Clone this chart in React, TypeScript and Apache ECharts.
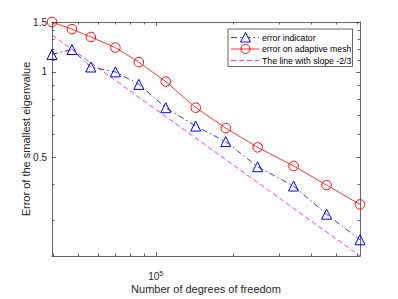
import React, { useEffect, useRef } from 'react';
import * as echarts from 'echarts';

const dofs = [39700, 47400, 56100, 69800, 86000, 109300, 142700, 186400, 247600, 341000, 457300, 616000];
const errorIndicator = [1.152, 1.199, 1.04, 1.0, 0.903, 0.747, 0.643, 0.567, 0.462, 0.395, 0.314, 0.255];
const errorAdaptive = [1.5, 1.415, 1.328, 1.218, 1.082, 0.924, 0.747, 0.633, 0.541, 0.465, 0.398, 0.34];
const slopeLineX = [39700, 616000];
const slopeLineY = [1.35, 0.2235];
const seriesNames = ['error indicator', 'error on adaptive mesh', 'The line with slope -2/3'];
const xMajorTicks = [100000];
const xMinorTicks = [40000, 50000, 60000, 70000, 80000, 90000, 200000, 300000, 400000, 500000, 600000];
const yMajorTicks = [0.5, 1, 1.5];
const yMinorTicks = [0.3, 0.4, 0.6, 0.7, 0.8, 0.9, 1.1, 1.2, 1.3, 1.4];
const xRange = [39700, 616000];
const yRange = [0.2235, 1.5];
const xTitle = 'Number of degrees of freedom';
const yTitle = 'Error of the smallest eigenvalue';

const AXIS_COLOR = '#404040';
const TEXT_COLOR = '#262626';
const FONT = '"Liberation Sans", Arial, Helvetica, sans-serif';
const BLUE = '#0000ff';
const RED = '#ff0000';
const MAGENTA = '#ff00ff';
const BLUE_DASH = [6, 3, 1.5, 3];
const MAGENTA_DASH = [5, 3];

function makeX(position: 'bottom' | 'top', ticks: number[], len: number, main: boolean, labels: boolean): any {
  return {
    type: 'log',
    position,
    min: xRange[0],
    max: xRange[1],
    axisLine: { show: main, lineStyle: { color: AXIS_COLOR, width: 0.8 } },
    axisTick: { show: true, inside: true, length: len, customValues: ticks, lineStyle: { color: AXIS_COLOR, width: 0.8 } },
    axisLabel: labels
      ? {
          show: true,
          customValues: xMajorTicks,
          margin: 14,
          fontFamily: FONT,
          formatter: (v: number) => (Math.abs(v - 100000) < 1 ? '{b|10}{s|5}' : ''),
          rich: {
            b: { fontSize: 10, lineHeight: 11, color: TEXT_COLOR, fontFamily: FONT, verticalAlign: 'bottom' },
            s: { fontSize: 7, lineHeight: 7, color: TEXT_COLOR, fontFamily: FONT, verticalAlign: 'top' },
          },
        }
      : { show: false },
    splitLine: { show: false },
    minorTick: { show: false },
    name: labels ? xTitle : '',
    nameLocation: 'middle',
    nameGap: 27,
    nameMoveOverlap: false,
    nameTextStyle: { fontSize: 11, color: TEXT_COLOR, fontFamily: FONT },
  };
}

function makeY(position: 'left' | 'right', ticks: number[], len: number, main: boolean, labels: boolean): any {
  return {
    type: 'log',
    position,
    min: yRange[0],
    max: yRange[1],
    axisLine: { show: main, lineStyle: { color: AXIS_COLOR, width: 0.8 } },
    axisTick: { show: true, inside: true, length: len, customValues: ticks, lineStyle: { color: AXIS_COLOR, width: 0.8 } },
    axisLabel: labels
      ? {
          show: true,
          customValues: yMajorTicks,
          margin: 5,
          fontSize: 10,
          color: TEXT_COLOR,
          fontFamily: FONT,
          formatter: (v: number) => String(Math.round(v * 10) / 10),
        }
      : { show: false },
    splitLine: { show: false },
    minorTick: { show: false },
    name: labels ? yTitle : '',
    nameLocation: 'middle',
    nameGap: 21,
    nameMoveOverlap: false,
    nameTextStyle: { fontSize: 11, color: TEXT_COLOR, fontFamily: FONT },
  };
}

function legendGraphic(): any[] {
  const left = 228;
  const top = 29;
  const rows = [37.5, 49, 60.5];
  const lx0 = 231;
  const lx1 = 259;
  const mx = 245.5;
  const tx = 262;
  const els: any[] = [
    {
      type: 'rect',
      shape: { x: left, y: top, width: 124.5, height: 37.5 },
      style: { fill: '#fff', stroke: AXIS_COLOR, lineWidth: 0.8 },
      z: 100,
    },
    {
      type: 'line',
      shape: { x1: lx0, y1: rows[0], x2: lx1, y2: rows[0] },
      style: { stroke: BLUE, lineWidth: 0.8, lineDash: BLUE_DASH },
      z: 101,
    },
    {
      type: 'polygon',
      shape: { points: [[mx, rows[0] - 5], [mx - 5, rows[0] + 4.5], [mx + 5, rows[0] + 4.5]] },
      style: { fill: '#fff', stroke: BLUE, lineWidth: 1 },
      z: 102,
    },
    {
      type: 'line',
      shape: { x1: lx0, y1: rows[1], x2: lx1, y2: rows[1] },
      style: { stroke: RED, lineWidth: 0.8 },
      z: 101,
    },
    {
      type: 'circle',
      shape: { cx: mx, cy: rows[1], r: 4.5 },
      style: { fill: 'rgba(255,255,255,0)', stroke: RED, lineWidth: 1 },
      z: 102,
    },
    {
      type: 'line',
      shape: { x1: lx0, y1: rows[2], x2: lx1, y2: rows[2] },
      style: { stroke: MAGENTA, lineWidth: 0.8, lineDash: MAGENTA_DASH },
      z: 101,
    },
  ];
  seriesNames.forEach((n, i) => {
    els.push({
      type: 'text',
      x: tx,
      y: rows[i],
      style: { text: n, fontSize: 8.7, fill: '#000', fontFamily: FONT, verticalAlign: 'middle', align: 'left' },
      z: 102,
    });
  });
  return els;
}

export default function App() {
  const ref = useRef<HTMLDivElement>(null);
  useEffect(() => {
    if (!ref.current) return;
    const chart = echarts.init(ref.current, null, { renderer: 'svg' });
    const option: any = {
      animation: false,
      backgroundColor: '#fff',
      grid: { left: 52, right: 38, top: 22, bottom: 35, containLabel: false },
      xAxis: [
        makeX('bottom', xMajorTicks, 4, true, true),
        makeX('bottom', xMinorTicks, 2.5, false, false),
        makeX('top', xMajorTicks, 4, true, false),
        makeX('top', xMinorTicks, 2.5, false, false),
      ],
      yAxis: [
        makeY('left', yMajorTicks, 4, true, true),
        makeY('left', yMinorTicks, 2.5, false, false),
        makeY('right', yMajorTicks, 4, true, false),
        makeY('right', yMinorTicks, 2.5, false, false),
      ],
      graphic: legendGraphic(),
      series: [
        {
          name: seriesNames[0],
          type: 'line',
          xAxisIndex: 0,
          yAxisIndex: 0,
          data: dofs.map((x, i) => [x, errorIndicator[i]]),
          symbol: 'triangle',
          symbolSize: 10,
          color: BLUE,
          lineStyle: { color: BLUE, width: 0.8, type: BLUE_DASH },
          itemStyle: { color: 'rgba(255,255,255,0)', borderColor: BLUE, borderWidth: 1 },
          z: 3,
        },
        {
          name: seriesNames[1],
          type: 'line',
          xAxisIndex: 0,
          yAxisIndex: 0,
          data: dofs.map((x, i) => [x, errorAdaptive[i]]),
          symbol: 'circle',
          symbolSize: 9.5,
          color: RED,
          lineStyle: { color: RED, width: 0.8, type: 'solid' },
          itemStyle: { color: 'rgba(255,255,255,0)', borderColor: RED, borderWidth: 1 },
          z: 4,
        },
        {
          name: seriesNames[2],
          type: 'line',
          xAxisIndex: 0,
          yAxisIndex: 0,
          data: slopeLineX.map((x, i) => [x, slopeLineY[i]]),
          symbol: 'none',
          color: MAGENTA,
          lineStyle: { color: MAGENTA, width: 0.8, type: MAGENTA_DASH },
          z: 2,
        },
      ],
    };
    chart.setOption(option);
    return () => chart.dispose();
  }, []);
  return <div ref={ref} style={{ width: 398, height: 299, position: 'fixed', left: 0, top: 0 }} />;
}
